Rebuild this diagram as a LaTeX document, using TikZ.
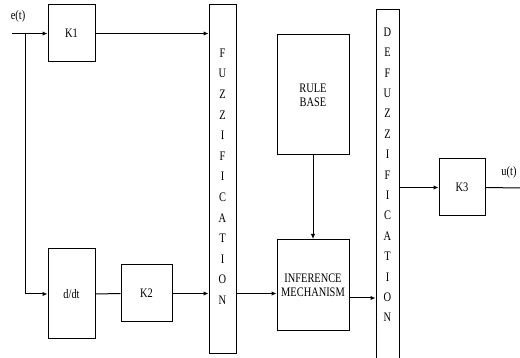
\documentclass[tikz,border=0pt]{standalone}
\usepackage{fontspec}
\setmainfont[FakeStretch=0.8]{Liberation Serif}
\usetikzlibrary{arrows.meta,calc,positioning}

\begin{document}
\begin{tikzpicture}[x=1pt,y=-1pt,font=\fontsize{13}{14}\selectfont,
    blk/.style={draw,line width=1pt,inner sep=0pt,align=center},
    sig/.style={line width=1pt},
    arr/.style={sig,-{Latex[length=5pt,width=4.5pt]}}]
    \useasboundingbox (0,0) rectangle (520,358);
    % blocks
    \node[blk,minimum width=47,minimum height=57] (kone) at (71.5,33.5) {K1};
    \node[blk,minimum width=47,minimum height=90] (ddt) at (71.5,294) {d/dt};
    \node[blk,minimum width=51,minimum height=57] (ktwo) at (146.5,293.5) {K2};
    \node[blk,minimum width=27,minimum height=349] (fuzz) at (222.5,179.5) {};
    \node[blk,minimum width=72,minimum height=120] (rule) at (313,95) {RULE\\[0pt]BASE};
    \node[blk,minimum width=72,minimum height=91] (inf) at (313,285) {INFERENCE\\[0pt]MECHANISM};
    \node[blk,minimum width=23,minimum height=349] (defuzz) at (387.5,184) {};
    \node[blk,minimum width=46,minimum height=57] (kthree) at (462,187.5) {K3};
    % stacked letters
    \foreach \l [count=\i from 0] in {F,U,Z,Z,I,F,I,C,A,T,I,O,N}
      \node (fz\i) at (222.5,53+20.6*\i) {\l};
    \foreach \l [count=\i from 0] in {D,E,F,U,Z,Z,I,F,I,C,A,T,I,O,N}
      \node (dz\i) at (387.5,32+20.4*\i) {\l};
    % signals
    \coordinate (ein) at (12,33.5);
    \coordinate (split) at (25,33.5);
    \coordinate (uout) at (520,188);
    \node (elab) at (18,16) {e(t)};
    \node (ulab) at (509,172) {u(t)};
    \draw[arr] (ein) -- (kone.west);
    \draw[arr] (split) |- (ddt.west);
    \draw[arr] (kone.east) -- (fuzz.west |- kone.east);
    \draw[sig] (ddt.east) -- (ktwo.west);
    \draw[arr] (ktwo.east) -- (fuzz.west |- ktwo.east);
    \draw[arr] (fuzz.east |- ktwo.east) -- (inf.west |- ktwo.east);
    \draw[arr] (rule.south) -- (inf.north);
    \draw[arr] ($(inf.east)+(0,13)$) -- ($(defuzz.west |- inf.east)+(0,13)$);
    \draw[arr] (defuzz.east |- kthree.west) -- (kthree.west);
    \draw[sig] (kthree.east) -- (uout);
  \end{tikzpicture}
\end{document}
